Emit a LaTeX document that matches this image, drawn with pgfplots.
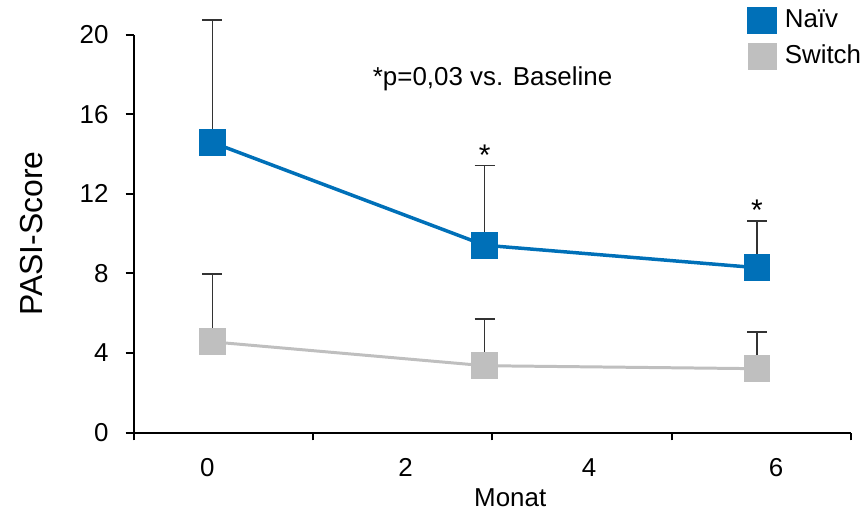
\documentclass[border=0pt]{standalone}
\usepackage{fontspec}
\setmainfont{Liberation Sans}
\usepackage{pgfplots}
\usepackage{pgfplotstable}
\pgfplotsset{compat=1.18}
\definecolor{naiv}{RGB}{0,112,184}
\definecolor{switchgray}{RGB}{191,191,191}

% Monat, Mittelwert, Fehler nach oben
\pgfplotstableread{
x y ey
0 14.59 6.16
3 9.42 4.01
6 8.29 2.34
}\naivtab
\pgfplotstableread{
x y ey
0 4.56 3.41
3 3.36 2.37
6 3.21 1.87
}\switchtab

\begin{document}
\fontsize{13}{15}\selectfont
\begin{tikzpicture}
\begin{axis}[
    scale only axis,
    width=360pt, height=199.5pt,
    xmin=-0.867, xmax=7.036,
    ymin=0, ymax=20,
    clip=false,
    axis x line=bottom, axis y line=left,
    axis line style={-, line width=1pt},
    xtick={-0.867,1.109,3.085,5.060,7.036},
    xticklabels={},
    extra x ticks={-0.055,2.13,4.15,6.21},
    extra x tick labels={0,2,4,6},
    extra x tick style={major tick length=0pt},
    ytick={0,4,...,20},
    tick align=outside,
    major tick length=4pt,
    tick style={line width=1pt, black},
    /pgf/number format/assume math mode=true,
    xticklabel style={yshift=-8.5pt},
    yticklabel style={xshift=-4pt},
    xlabel={Monat},
    ylabel={PASI-Score},
    every axis x label/.style={at={(axis description cs:0.525,-0.163)}, anchor=center},
    every axis y label/.style={at={(axis description cs:-0.142,0.5)}, anchor=center, rotate=90, font=\fontsize{16}{19}\selectfont},
    legend style={at={(axis description cs:0.855,1.075)}, anchor=north west,
        draw=none, fill=none, row sep=3pt, inner sep=0pt,
        /tikz/every odd column/.append style={column sep=2pt}},
    legend cell align=left,
    legend image code/.code={\fill[#1] (-6.5pt,-6pt) rectangle (6.5pt,6pt);},
]
\addplot[black!80, only marks, mark=none, forget plot,
    error bars/.cd, y dir=plus, y explicit, error mark=|,
    error bar style={line width=0.75pt, black!80},
    error mark options={line width=1pt, black!80, mark size=5pt}]
    table[x=x, y=y, y error=ey] {\naivtab};
\addplot[black!80, only marks, mark=none, forget plot,
    error bars/.cd, y dir=plus, y explicit, error mark=|,
    error bar style={line width=0.75pt, black!80},
    error mark options={line width=1pt, black!80, mark size=5pt}]
    table[x=x, y=y, y error=ey] {\switchtab};

\addplot[naiv, line width=1.75pt, mark=square*, mark size=6.5pt,
    mark options={solid, line width=0pt}] table[x=x, y=y] {\naivtab};
\addplot[switchgray, line width=1.5pt, mark=square*, mark size=6.5pt,
    mark options={solid, line width=0pt}] table[x=x, y=y] {\switchtab};
\legend{Naïv, Switch}

\node[anchor=west] at (axis description cs:0.321,0.890) {*p=0,03 vs. Baseline};
\node[anchor=south, inner sep=0pt, font=\fontsize{15}{17}\selectfont] at (axis cs:3,13.43) {*};
\node[anchor=south, inner sep=0pt, font=\fontsize{15}{17}\selectfont] at (axis cs:6,10.63) {*};

\coordinate (bl) at (rel axis cs:0,0);
\coordinate (tr) at (rel axis cs:1,1);
\end{axis}
\pgfresetboundingbox
\path ([xshift=-67pt,yshift=-40pt]bl) rectangle ([xshift=7.5pt,yshift=17.5pt]tr);
\end{tikzpicture}
\end{document}
